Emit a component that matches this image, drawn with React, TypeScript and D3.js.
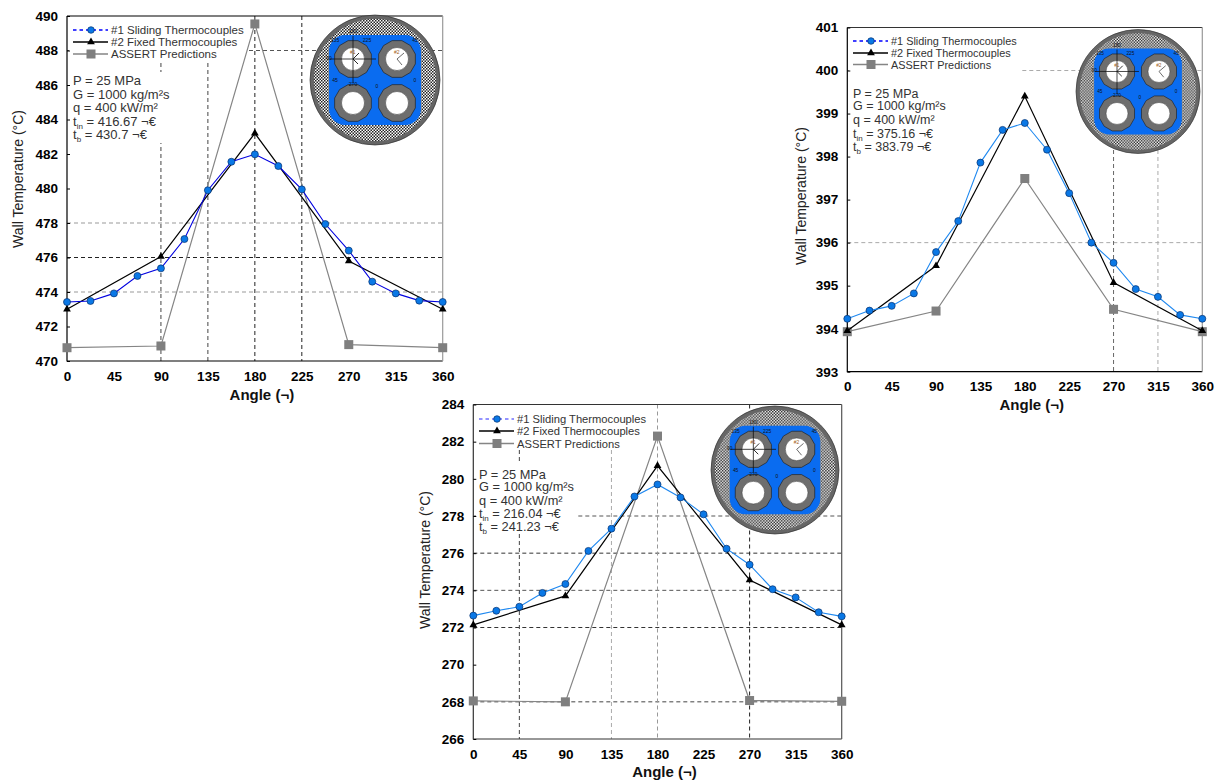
import React, { useEffect, useRef } from "react";
import * as d3 from "d3";

// angles of the thermocouple readings
const slidingAngles = [0, 22.5, 45, 67.5, 90, 112.5, 135, 157.5, 180, 202.5, 225, 247.5, 270, 292.5, 315, 337.5, 360];
const coarseAngles = [0, 90, 180, 270, 360];
const angleTicks = [0, 45, 90, 135, 180, 225, 270, 315, 360];

const sliding1 = [473.42, 473.48, 473.92, 474.93, 475.37, 477.07, 479.9, 481.55, 481.98, 481.3, 479.95, 477.94, 476.4, 474.6, 473.92, 473.5, 473.42];
const fixed1 = [473.0, 476.05, 483.2, 475.8, 473.0];
const assert1 = [470.77, 470.87, 489.54, 470.95, 470.77];
const ticks1 = [470, 472, 474, 476, 478, 480, 482, 484, 486, 488, 490];

const sliding2 = [394.23, 394.42, 394.53, 394.82, 395.78, 396.5, 397.86, 398.62, 398.78, 398.16, 397.15, 396.0, 395.53, 394.92, 394.74, 394.32, 394.23];
const fixed2 = [393.95, 395.46, 399.4, 395.07, 393.95];
const assert2 = [393.93, 394.41, 397.49, 394.45, 393.93];
const ticks2 = [393, 394, 395, 396, 397, 398, 399, 400, 401];

const sliding3 = [272.64, 272.9, 273.12, 273.86, 274.34, 276.12, 277.32, 279.05, 279.7, 279.0, 278.09, 276.24, 275.38, 274.06, 273.62, 272.82, 272.6];
const fixed3 = [272.14, 273.7, 280.7, 274.56, 272.14];
const assert3 = [268.05, 268.0, 282.3, 268.07, 268.03];
const ticks3 = [266, 268, 270, 272, 274, 276, 278, 280, 282, 284];

const seriesNames = ["#1 Sliding Thermocouples", "#2 Fixed Thermocouples", "ASSERT Predictions"];

const panels = [
  {
    left: 67, right: 442.7, top: 16, bottom: 361, domain: [470, 490], ticks: ticks1,
    sliding: sliding1, fixed: fixed1, assert: assert1,
    slidingColor: "#0000e0", legendDash: "#0000ff", titleX: 23, titleY: 179, angleY: 395,
    legendBox: [69, 18, 178, 45], infoBox: [70, 72, 100, 71],
    legendRows: [30, 42, 54], infoRows: [80.5, 94, 107, 121, 134], textX: 73,
    legendFont: 11.5, infoFont: 13,
    tin: "416.67", tb: "430.7", circle: [375, 80, 65],
    hGrid: [[488, 67, 442.7, "#555"], [478, 67, 442.7, "#999"], [476, 67, 442.7, "#222"], [474, 67, 442.7, "#999"]],
    vGrid: [[90, 63, "#444"], [135, 63, "#444"], [180, 16, "#222"], [225, 16, "#222"]],
    edge: ["#000", "#000", "#999"],
  },
  {
    left: 847.3, right: 1202.3, top: 27.5, bottom: 371.7, domain: [393, 401], ticks: ticks2,
    sliding: sliding2, fixed: fixed2, assert: assert2,
    slidingColor: "#1e88f0", legendDash: "#0000ff", titleX: 806, titleY: 196, angleY: 405,
    legendBox: [849, 29, 171, 47], infoBox: [850, 84, 100, 71],
    legendRows: [41, 53, 64.5], infoRows: [93, 105, 119, 133, 146], textX: 853,
    legendFont: 10.9, infoFont: 12.5,
    tin: "375.16", tb: "383.79", circle: [1138, 91.5, 62],
    hGrid: [[400, 847.3, 1202.3, "#aaa"], [396, 847.3, 1202.3, "#aaa"]],
    vGrid: [[270, 150, "#666"], [315, 150, "#aaa"]],
    edge: ["#333", "#000", "#999"],
  },
  {
    left: 473.3, right: 841.7, top: 404.5, bottom: 739, domain: [266, 284], ticks: ticks3,
    sliding: sliding3, fixed: fixed3, assert: assert3,
    slidingColor: "#1e88f0", legendDash: "#7070ff", titleX: 430, titleY: 560, angleY: 772,
    legendBox: [475, 406, 175, 43], infoBox: [476, 462, 102, 72],
    legendRows: [419, 431, 443.5], infoRows: [474, 486, 500, 513, 526], textX: 479,
    legendFont: 11.2, infoFont: 12.8,
    tin: "216.04", tb: "241.23", circle: [775, 470, 64],
    hGrid: [[278, 473.3, 841.7, "#555"], [276, 473.3, 841.7, "#333"], [274, 473.3, 841.7, "#555"], [272, 473.3, 841.7, "#333"], [268, 473.3, 841.7, "#444"]],
    vGrid: [[45, 450, "#444"], [135, 450, "#aaa"], [180, 404.5, "#999"], [270, 404.5, "#222"]],
    edge: ["#333", "#333", "#555"],
  },
];

const FONT = "'Liberation Sans', Arial, sans-serif";

const drawSchematic = (g, cx, cy, r) => {
  const k = r / 65;
  const root = g.append("g").attr("transform", `translate(${cx},${cy}) scale(${k})`);
  root.append("circle").attr("r", 63).attr("fill", `url(#checker)`).attr("stroke", "#666").attr("stroke-width", 4);
  root.append("circle").attr("r", 65).attr("fill", "none").attr("stroke", "#333").attr("stroke-width", 0.7);
  root.append("rect")
    .attr("x", -46).attr("y", -45).attr("width", 92).attr("height", 90).attr("rx", 16)
    .attr("fill", "#0a6cf0");

  const octagon = d3.lineRadial().curve(d3.curveLinearClosed);
  const sides = d3.range(12).map((i) => (i * Math.PI) / 6 + Math.PI / 12);
  const rings = [[-22, -21], [22, -21], [-22, 23], [22, 23]];
  rings.forEach(([x, y], i) => {
    const ring = root.append("g").attr("transform", `translate(${x},${y})`);
    ring.append("path").attr("d", octagon(sides.map((a) => [a, 19]))).attr("fill", "#6e6e6e").attr("stroke", "#222").attr("stroke-width", 0.7);
    ring.append("circle").attr("r", 11.5).attr("fill", "#fff").attr("stroke", "#333").attr("stroke-width", 0.5);
    if (i === 0) {
      ring.append("path").attr("d", "M-23,0H23M0,-23V23").attr("stroke", "#111").attr("stroke-width", 0.8);
      ring.append("path").attr("d", "M0,0L6,-6M0,0L5,5").attr("stroke", "#111").attr("stroke-width", 0.9);
    }
    if (i === 1) {
      ring.append("path").attr("d", "M0,0L7,-6M0,0L5,6").attr("stroke", "#444").attr("stroke-width", 0.8);
    }
    if (i < 2) {
      ring.append("text").attr("x", -3).attr("y", -5).attr("font-size", 5).attr("font-family", FONT).attr("fill", "#a06020").text(i === 0 ? "#1" : "#2");
    }
  });
  const angleMarks = [[-22, -47, "180"], [-46, -20, "90"], [-22, 6, "270"], [2, 8, "0"], [-40, -38, "135"], [-40, 2, "45"], [-8, -38, "225"], [40, -38, "45"], [40, 2, "0"]];
  root.append("g").attr("font-family", FONT).attr("font-size", 5).attr("text-anchor", "middle").attr("fill", "#111")
    .selectAll("text").data(angleMarks).join("text")
    .attr("x", (d) => d[0]).attr("y", (d) => d[1]).text((d) => d[2]);
};

const drawPanel = (svg, p) => {
  const x = d3.scaleLinear().domain([0, 360]).range([p.left, p.right]);
  const y = d3.scaleLinear().domain(p.domain).range([p.bottom, p.top]);
  const g = svg.append("g");

  // partial dashed grid, the way it was hand drawn on the original plots
  g.append("g").selectAll("line").data(p.hGrid).join("line")
    .attr("x1", (d) => d[1]).attr("x2", (d) => d[2])
    .attr("y1", (d) => y(d[0])).attr("y2", (d) => y(d[0]))
    .attr("stroke", (d) => d[3]).attr("stroke-dasharray", "4 3");
  g.append("g").selectAll("line").data(p.vGrid).join("line")
    .attr("x1", (d) => x(d[0])).attr("x2", (d) => x(d[0]))
    .attr("y1", (d) => d[1]).attr("y2", p.bottom)
    .attr("stroke", (d) => d[2]).attr("stroke-dasharray", "4 3");

  g.selectAll("rect.box").data([p.legendBox, p.infoBox]).join("rect")
    .attr("class", "box").attr("fill", "#fff")
    .attr("x", (d) => d[0]).attr("y", (d) => d[1]).attr("width", (d) => d[2]).attr("height", (d) => d[3]);

  // frame
  const frame = g.append("g").attr("fill", "none");
  frame.append("path").attr("d", `M${p.left},${p.top}H${p.right}`).attr("stroke", p.edge[0]).attr("stroke-width", 1.2);
  frame.append("path").attr("d", `M${p.left},${p.top}V${p.bottom}H${p.right}`).attr("stroke", p.edge[1]).attr("stroke-width", 1.2);
  frame.append("path").attr("d", `M${p.right},${p.top}V${p.bottom}`).attr("stroke", p.edge[2]).attr("stroke-width", 1.2);

  // axes
  const yAxis = g.append("g").attr("transform", `translate(${p.left},0)`)
    .call(d3.axisLeft(y).tickValues(p.ticks).tickSize(-3).tickSizeOuter(0).tickPadding(9));
  const xAxis = g.append("g").attr("transform", `translate(0,${p.bottom})`)
    .call(d3.axisBottom(x).tickValues(angleTicks).tickSize(0).tickPadding(10));
  [xAxis, yAxis].forEach((a) => {
    a.select(".domain").remove();
    a.selectAll("text").attr("font-family", FONT).attr("font-size", 13.5).attr("font-weight", "bold").attr("fill", "#000");
  });

  g.append("text").attr("transform", `translate(${p.titleX},${p.titleY}) rotate(-90)`)
    .attr("text-anchor", "middle").attr("font-family", FONT).attr("font-size", 14).attr("fill", "#222")
    .text("Wall Temperature (°C)");
  g.append("text").attr("x", x(180) + 7).attr("y", p.angleY + 5)
    .attr("text-anchor", "middle").attr("font-family", FONT).attr("font-size", 15).attr("font-weight", "bold").attr("fill", "#111")
    .text("Angle (¬)");

  // series
  const line = d3.line();
  const assertPts = coarseAngles.map((a, i) => [x(a), y(p.assert[i])]);
  const fixedPts = coarseAngles.map((a, i) => [x(a), y(p.fixed[i])]);
  const slidingPts = slidingAngles.map((a, i) => [x(a), y(p.sliding[i])]);
  g.append("path").attr("d", line(assertPts)).attr("fill", "none").attr("stroke", "#858585").attr("stroke-width", 1.2);
  g.append("g").selectAll("rect").data(assertPts).join("rect")
    .attr("x", (d) => d[0] - 4.5).attr("y", (d) => d[1] - 4.5).attr("width", 9).attr("height", 9).attr("fill", "#7f7f7f");
  g.append("path").attr("d", line(fixedPts)).attr("fill", "none").attr("stroke", "#000").attr("stroke-width", 1.2);
  const triangle = d3.symbol().type(d3.symbolTriangle).size(26);
  g.append("g").selectAll("path").data(fixedPts).join("path")
    .attr("d", triangle()).attr("transform", (d) => `translate(${d[0]},${d[1]})`).attr("fill", "#000");
  g.append("path").attr("d", line(slidingPts)).attr("fill", "none").attr("stroke", p.slidingColor).attr("stroke-width", 1.1);
  g.append("g").selectAll("circle").data(slidingPts).join("circle")
    .attr("cx", (d) => d[0]).attr("cy", (d) => d[1]).attr("r", 3.5)
    .attr("fill", "#0a78e6").attr("stroke", "#06306e").attr("stroke-width", 0.7);

  // legend
  const lx0 = p.textX;
  const lx1 = p.textX + 35;
  const rows = p.legendRows;
  g.append("line").attr("x1", lx0).attr("x2", lx1).attr("y1", rows[0]).attr("y2", rows[0])
    .attr("stroke", p.legendDash).attr("stroke-width", 1.6).attr("stroke-dasharray", "3.5 3");
  g.append("circle").attr("cx", lx0 + 18).attr("cy", rows[0]).attr("r", 3.3).attr("fill", "#0a78e6").attr("stroke", "#06306e").attr("stroke-width", 0.7);
  g.append("line").attr("x1", lx0).attr("x2", lx1).attr("y1", rows[1]).attr("y2", rows[1]).attr("stroke", "#000").attr("stroke-width", 1.4);
  g.append("path").attr("d", triangle()).attr("transform", `translate(${lx0 + 18},${rows[1]})`).attr("fill", "#000");
  g.append("line").attr("x1", lx0).attr("x2", lx1).attr("y1", rows[2]).attr("y2", rows[2]).attr("stroke", "#858585").attr("stroke-width", 1.4);
  g.append("rect").attr("x", lx0 + 13.5).attr("y", rows[2] - 4.5).attr("width", 9).attr("height", 9).attr("fill", "#7f7f7f");
  seriesNames.forEach((name, i) => {
    g.append("text").attr("x", lx1 + 3).attr("y", rows[i] + 4).attr("font-family", FONT).attr("font-size", p.legendFont).attr("fill", "#333").text(name);
  });

  // test conditions
  const info = g.append("g").attr("font-family", FONT).attr("font-size", p.infoFont).attr("fill", "#333");
  const plain = ["P = 25 MPa", "G = 1000 kg/m²s", "q = 400 kW/m²"];
  plain.forEach((s, i) => {
    info.append("text").attr("x", p.textX).attr("y", p.infoRows[i] + 4.5).text(s);
  });
  [["in", p.tin], ["b", p.tb]].forEach(([sub, value], i) => {
    const t = info.append("text").attr("x", p.textX).attr("y", p.infoRows[i + 3] + 4.5);
    t.append("tspan").text("t");
    t.append("tspan").attr("dy", 3).attr("font-size", 8).text(sub);
    t.append("tspan").attr("dy", -3).text(` = ${value} ¬€`);
  });

  drawSchematic(g, p.circle[0], p.circle[1], p.circle[2]);
};

export default function App() {
  const svgRef = useRef(null);

  useEffect(() => {
    const svg = d3.select(svgRef.current);
    svg.selectAll("*").remove();
    const defs = svg.append("defs");
    const pattern = defs.append("pattern").attr("id", "checker")
      .attr("width", 3).attr("height", 3).attr("patternUnits", "userSpaceOnUse");
    pattern.append("rect").attr("width", 3).attr("height", 3).attr("fill", "#fff");
    pattern.append("rect").attr("width", 1.5).attr("height", 1.5).attr("fill", "#222");
    pattern.append("rect").attr("x", 1.5).attr("y", 1.5).attr("width", 1.5).attr("height", 1.5).attr("fill", "#222");
    panels.forEach((p) => drawPanel(svg, p));
  }, []);

  return (
    <svg
      ref={svgRef}
      width={1218}
      height={780}
      style={{ position: "absolute", left: 0, top: 0, display: "block", background: "#fff" }}
    />
  );
}
